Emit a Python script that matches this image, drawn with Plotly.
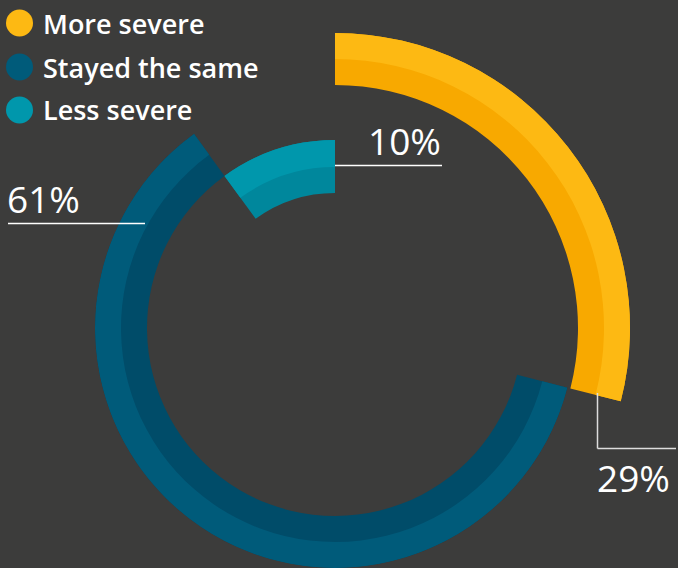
import math
import plotly.graph_objects as go

# ---- data ----
categories = ["More severe", "Stayed the same", "Less severe"]
percents = [29, 61, 10]
labels = ["29%", "61%", "10%"]

# ---- style ----
light_colors = ["#FDB913", "#005B7A", "#0097AC"]
dark_colors = ["#F8A900", "#004C69", "#00879C"]
legend_colors = ["#FDB913", "#005B7A", "#0097AC"]
ring_inner = [243, 188, 135]
ring_mid = [269, 214, 161]
ring_outer = [295, 240, 188]
BG = "#3C3C3B"
W, H = 678, 568
FONT = "Open Sans"


def px(x):
    return x / W


def py(y):
    return 1 - y / H


fig = go.Figure()

start = 0.0
for i, cat in enumerate(categories):
    span = percents[i] * 3.6
    center = start + span / 2
    sub = "polar2" if i == 0 else "polar"
    # full band in the darker tone
    fig.add_trace(go.Barpolar(
        r=[ring_outer[i] - ring_inner[i]], base=[ring_inner[i]],
        theta=[center], width=[span],
        marker=dict(color=dark_colors[i], line=dict(width=0)),
        subplot=sub, name=cat, showlegend=False, hoverinfo="skip"))
    # outer (lighter) half on top
    fig.add_trace(go.Barpolar(
        r=[ring_outer[i] - ring_mid[i]], base=[ring_mid[i]],
        theta=[center], width=[span],
        marker=dict(color=light_colors[i], line=dict(width=0)),
        subplot=sub, name=cat, showlegend=False, hoverinfo="skip"))
    start += span

ang = dict(visible=False, rotation=90, direction="clockwise", thetaunit="degrees")

cx, cy = 335, 328
R1 = 240
R2 = 300
s2 = 15
fig.update_layout(
    polar=dict(domain=dict(x=[px(cx - R1), px(cx + R1)], y=[py(cy + R1), py(cy - R1)]),
               radialaxis=dict(visible=False, range=[0, R1]),
               angularaxis=ang, bgcolor="rgba(0,0,0,0)"),
    polar2=dict(domain=dict(x=[px(cx), px(cx + R2)],
                            y=[py(cy + R2 * math.sin(math.radians(s2))), py(cy - R2)]),
                sector=[-s2, 90],
                radialaxis=dict(visible=False, range=[0, R2]),
                angularaxis=ang, bgcolor="rgba(0,0,0,0)"),
    width=W, height=H,
    margin=dict(l=0, r=0, t=0, b=0),
    paper_bgcolor=BG, plot_bgcolor=BG,
    showlegend=False,
)

shapes = []
annotations = []

# custom legend
leg_y = [23, 67, 110]
for i, cat in enumerate(categories):
    shapes.append(dict(type="circle", xref="paper", yref="paper",
                       x0=px(6), x1=px(33), y0=py(leg_y[i] + 13.5), y1=py(leg_y[i] - 13.5),
                       fillcolor=legend_colors[i], line=dict(width=0)))
    annotations.append(dict(x=px(41), y=py(leg_y[i]), xref="paper", yref="paper",
                            text=cat, showarrow=False, xanchor="left", yanchor="middle",
                            font=dict(family=FONT, size=27, color="white", weight=600)))

# value labels with leader lines
line_col = "#ffffff"
# 29%
shapes.append(dict(type="line", xref="paper", yref="paper", x0=px(597.5), x1=px(597.5),
                   y0=py(393), y1=py(448.5), line=dict(color="#dddddd", width=1.5)))
shapes.append(dict(type="line", xref="paper", yref="paper", x0=px(597.5), x1=px(676),
                   y0=py(448.5), y1=py(448.5), line=dict(color="#dddddd", width=1.5)))
annotations.append(dict(x=px(595), y=py(477), xref="paper", yref="paper", text=labels[0],
                        showarrow=False, xanchor="left", yanchor="middle",
                        font=dict(family=FONT, size=37, color="white")))
# 61%
shapes.append(dict(type="line", xref="paper", yref="paper", x0=px(8), x1=px(145),
                   y0=py(223.5), y1=py(223.5), line=dict(color=line_col, width=1.5)))
annotations.append(dict(x=px(5), y=py(198), xref="paper", yref="paper", text=labels[1],
                        showarrow=False, xanchor="left", yanchor="middle",
                        font=dict(family=FONT, size=37, color="white")))
# 10%
shapes.append(dict(type="line", xref="paper", yref="paper", x0=px(335), x1=px(442),
                   y0=py(165.5), y1=py(165.5), line=dict(color=line_col, width=1.5)))
annotations.append(dict(x=px(443), y=py(140), xref="paper", yref="paper", text=labels[2],
                        showarrow=False, xanchor="right", yanchor="middle",
                        font=dict(family=FONT, size=37, color="white")))

fig.update_layout(shapes=shapes, annotations=annotations)

fig.write_html("out.html", config={"displayModeBar": False},
               post_script="document.body.style.margin='0';document.body.style.padding='0';")
